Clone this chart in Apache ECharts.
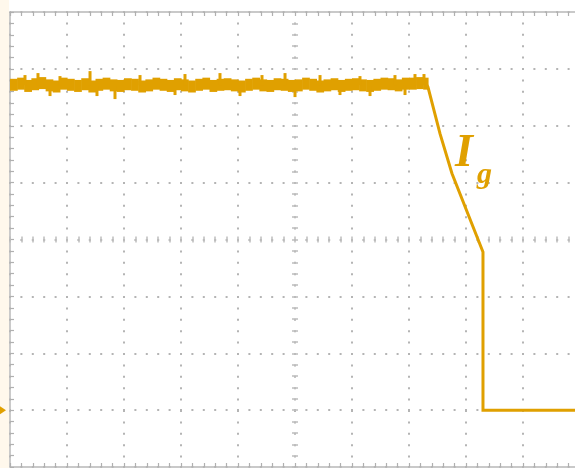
<!DOCTYPE html>
<html>
<head>
<meta charset="utf-8">
<script src="https://cdn.jsdelivr.net/npm/echarts@6/dist/echarts.min.js"></script>
<style>
html,body{margin:0;padding:0;background:#fff;}
#c{width:575px;height:468px;}
</style>
</head>
<body>
<div id="c"></div>
<script>
// Horizontal divisions (-5..5), vertical divisions (-4..4)
var xDivs = [-5, 5];
var yDivs = [-4, 4];
var groundLevel = -3;
var flatLevel = 2.715;

// flat (noisy) part of Ig, in divisions: [time, level]
var flatTrace = [
[-5.000,2.72],[-4.875,2.74],[-4.750,2.70],[-4.625,2.73],[-4.500,2.75],[-4.375,2.71],[-4.250,2.69],[-4.125,2.74],
[-4.000,2.72],[-3.875,2.70],[-3.750,2.73],[-3.625,2.69],[-3.500,2.72],[-3.375,2.74],[-3.250,2.71],[-3.125,2.70],
[-3.000,2.73],[-2.875,2.72],[-2.750,2.69],[-2.625,2.71],[-2.500,2.74],[-2.375,2.72],[-2.250,2.70],[-2.125,2.73],
[-2.000,2.71],[-1.875,2.69],[-1.750,2.72],[-1.625,2.74],[-1.500,2.70],[-1.375,2.72],[-1.250,2.73],[-1.125,2.71],
[-1.000,2.69],[-0.875,2.72],[-0.750,2.74],[-0.625,2.71],[-0.500,2.70],[-0.375,2.73],[-0.250,2.72],[-0.125,2.70],
[0.000,2.71],[0.125,2.74],[0.250,2.72],[0.375,2.69],[0.500,2.71],[0.625,2.73],[0.750,2.70],[0.875,2.72],
[1.000,2.73],[1.125,2.71],[1.250,2.70],[1.375,2.72],[1.500,2.74],[1.625,2.73],[1.750,2.71],[1.875,2.74],
[2.000,2.74],[2.125,2.75],[2.250,2.74],[2.333,2.72]
];
// noise spikes on the flat part: time and peak level
var spikeTimes = [-4.737,-4.509,-4.123,-3.596,-2.719,-1.930,-1.316,-0.579,-0.175,0.439,1.140,1.754,2.105,2.263,
                  -4.298,-3.474,-3.158,-2.105,-0.965,0.000,0.789,1.316,1.930];
var spikePeaks = [2.891,2.926,2.873,2.961,2.891,2.909,2.926,2.891,2.926,2.891,2.873,2.891,2.909,2.909,
                  2.522,2.522,2.469,2.540,2.522,2.504,2.540,2.522,2.540];
// falling edge and the zero level after it
var edgeTrace = [
[2.31,2.72],[2.333,2.68],[2.544,1.86],[2.754,1.16],[3.298,-0.22],[3.298,-3.0],[5.2,-3.0]
];

var orange = '#E0A000';
var dotGrey = '#b4b4b4';
var chart = echarts.init(document.getElementById('c'), null, {renderer:'canvas'});

function borderX(pos){
  return {type:'value', min:xDivs[0], max:xDivs[1], interval:1, position:pos,
    axisLine:{show:true, onZero:false, lineStyle:{color:'#b8b8b8', width:1.5}},
    axisTick:{show:true, inside:true, length:4, lineStyle:{color:'#b0b0b0', width:1.2}},
    minorTick:{show:true, splitNumber:5, length:4, lineStyle:{color:'#b0b0b0', width:1.2}},
    axisLabel:{show:false}, splitLine:{show:false}};
}
function centerX(inside){
  return {type:'value', min:xDivs[0], max:xDivs[1], interval:1, position:'bottom',
    axisLine:{show:true, onZero:true, lineStyle:{color:'#fff', opacity:0}},
    axisTick:{show:true, inside:inside, length:3, lineStyle:{color:'#bdbdbd', width:1.5}},
    minorTick:{show:true, splitNumber:5, length:3, lineStyle:{color:'#bdbdbd', width:1.5}},
    axisLabel:{show:false}, splitLine:{show:false}};
}
function centerY(inside){
  return {type:'value', min:yDivs[0], max:yDivs[1], interval:1, position:'left',
    axisLine:{show:true, onZero:true, lineStyle:{color:'#fff', opacity:0}},
    axisTick:{show:true, inside:inside, length:3, lineStyle:{color:'#bdbdbd', width:1.5}},
    minorTick:{show:true, splitNumber:5, length:3, lineStyle:{color:'#bdbdbd', width:1.5}},
    axisLabel:{show:false}, splitLine:{show:false}};
}

var xMain = borderX('bottom');
xMain.splitLine = {show:true, lineStyle:{color:dotGrey, width:2, type:[2,9.4], dashOffset:1}};
var yMain = {type:'value', min:yDivs[0], max:yDivs[1], interval:1, position:'left',
    axisLine:{show:true, onZero:false, lineStyle:{color:'#b8b8b8', width:1.5}},
    axisTick:{show:true, inside:true, length:4, lineStyle:{color:'#b0b0b0', width:1.2}},
    minorTick:{show:true, splitNumber:5, length:4, lineStyle:{color:'#b0b0b0', width:1.2}},
    axisLabel:{show:false},
    splitLine:{show:true, lineStyle:{color:dotGrey, width:2, type:[2,9.4], dashOffset:1}}};

// band segments: [t, tNext, level]
var bandData = [];
for (var i = 0; i < flatTrace.length - 1; i++) {
  bandData.push([flatTrace[i][0], flatTrace[i+1][0], flatTrace[i][1]]);
}
var spikeData = spikeTimes.map(function(t, i){ return [t, flatLevel, spikePeaks[i]]; });
var BAND_HALF = 6;

chart.setOption({
  animation:false,
  backgroundColor:'#ffffff',
  grid:{left:10, top:12, width:570, height:455, containLabel:false, outerBoundsMode:'none'},
  xAxis:[xMain, borderX('top'), centerX(false), centerX(true)],
  yAxis:[yMain, centerY(false), centerY(true)],
  graphic:[
    {type:'rect', left:0, top:0, z:-1, shape:{width:9, height:468}, style:{fill:'#FFF8EC'}},
    {type:'text', x:455, y:154, z:10, style:{text:'I', font:'italic bold 46px "Liberation Serif"', fill:orange, verticalAlign:'middle'}},
    {type:'text', x:477, y:175, z:10, style:{text:'g', font:'italic bold 30px "Liberation Serif"', fill:orange, verticalAlign:'middle'}}
  ],
  series:[
    {type:'custom', data:bandData, xAxisIndex:0, yAxisIndex:0, clip:false,
     renderItem:function(params, api){
       var a = api.coord([api.value(0), api.value(2)]);
       var b = api.coord([api.value(1), api.value(2)]);
       return {type:'rect', shape:{x:a[0], y:a[1]-BAND_HALF, width:b[0]-a[0]+0.6, height:BAND_HALF*2},
               style:{fill:orange}};
     }},
    {type:'custom', data:spikeData, xAxisIndex:0, yAxisIndex:0, clip:false,
     renderItem:function(params, api){
       var a = api.coord([api.value(0), api.value(1)]);
       var b = api.coord([api.value(0), api.value(2)]);
       return {type:'rect', shape:{x:a[0]-1.5, y:Math.min(a[1],b[1]), width:3, height:Math.abs(b[1]-a[1])},
               style:{fill:orange}};
     }},
    {type:'line', data:edgeTrace, xAxisIndex:0, yAxisIndex:0, symbol:'none', clip:false,
     lineStyle:{color:orange, width:3, join:'miter'},
     markPoint:{symbol:'arrow', symbolSize:[9,9], symbolRotate:-90, symbolOffset:[-4,0],
       data:[{coord:[xDivs[0], groundLevel]}], itemStyle:{color:orange}, label:{show:false}}}
  ]
});
</script>
</body>
</html>
